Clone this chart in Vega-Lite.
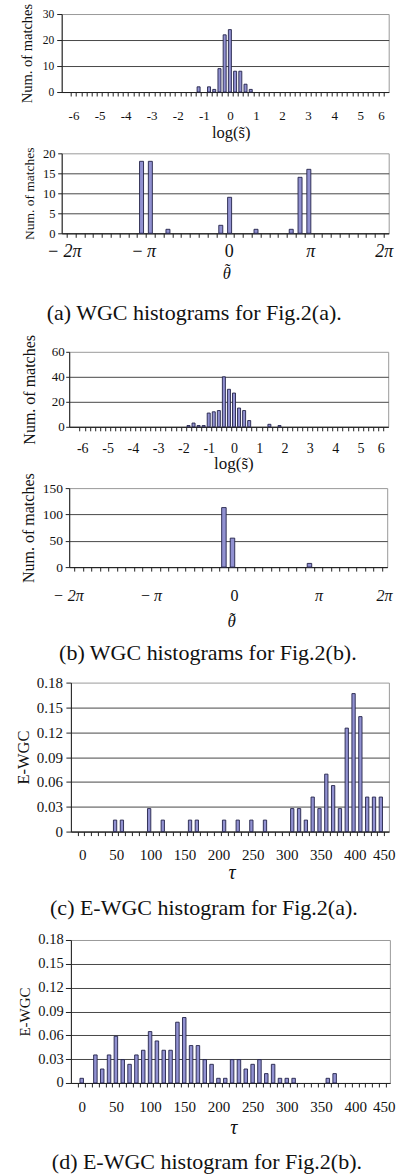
{
  "$schema": "https://vega.github.io/schema/vega-lite/v6.json",
  "padding": {"left": 14.7, "top": 2, "right": 0, "bottom": 0},
  "config": {
    "view": {"stroke": "#9a9a9a", "strokeWidth": 1},
    "axis": {"labelFont": "Liberation Serif", "titleFont": "Liberation Serif", "labelColor": "#111", "titleColor": "#111", "titleFontWeight": "normal", "domainColor": "#222", "tickColor": "#222", "gridColor": "#333", "gridWidth": 0.9, "labelFlush": false, "labelOverlap": false},
    "title": {"font": "Liberation Serif", "fontWeight": "normal", "color": "#111"}
  },
  "concat": [
    {
      "concat": [
        {
          "width": 327, "height": 78,
          "data": {"values": [{"s": -1.2, "n": 2}, {"s": -0.8, "n": 2}, {"s": -0.6, "n": 1}, {"s": -0.4, "n": 9}, {"s": -0.2, "n": 22}, {"s": 0, "n": 24}, {"s": 0.2, "n": 8}, {"s": 0.4, "n": 8}, {"s": 0.6, "n": 3}, {"s": 0.8, "n": 1}]},
          "mark": {"type": "bar", "width": 3, "fill": "#9191d1", "stroke": "#23234a", "strokeWidth": 0.9},
          "encoding": {
            "x": {"field": "s", "type": "quantitative", "scale": {"domain": [-6.26, 5.9], "nice": false, "zero": false},
              "axis": {"orient": "bottom", "grid": false, "values": [-6, -5.8, -5.6, -5.4, -5.2, -5, -4.8, -4.6, -4.4, -4.2, -4, -3.8, -3.6, -3.4, -3.2, -3, -2.8, -2.6, -2.4, -2.2, -2, -1.8, -1.6, -1.4, -1.2, -1, -0.8, -0.6, -0.4, -0.2, 0, 0.2, 0.4, 0.6, 0.8, 1, 1.2, 1.4, 1.6, 1.8, 2, 2.2, 2.4, 2.6, 2.8, 3, 3.2, 3.4, 3.6, 3.8, 4, 4.2, 4.4, 4.6, 4.8, 5, 5.2, 5.4, 5.6, 5.8, 6],
                "tickOffset": -2.69, "labelOffset": 2.69,
                "labelExpr": "datum.value > 5.95 ? '' : abs(datum.value - round(datum.value)) < 0.01 ? toString(round(datum.value)) : datum.value > 5.75 ? '6' : ''",
                "labelFontSize": 13, "labelBaseline": "alphabetic", "tickSize": 4, "labelPadding": 23.2,
                "title": "log(s\u0303)", "titleFontSize": 16.5, "titleX": 169, "titleY": 45.5, "titleBaseline": "alphabetic"}},
            "y": {"field": "n", "type": "quantitative", "scale": {"domain": [0, 30], "nice": false},
              "axis": {"values": [0, 10, 20, 30], "grid": true, "gridOpacity": {"condition": {"test": "datum.value >= 30", "value": 0}, "value": 1},
                "labelFontSize": 11.5, "tickSize": 5, "labelPadding": 3,
                "title": "Num. of matches", "titleFontSize": 14.5, "titleX": -29.8, "titleBaseline": "alphabetic"}}
          }
        },
        {
          "width": 327, "height": 80,
          "title": {"text": "(a) WGC histograms for Fig.2(a).", "orient": "bottom", "anchor": "middle", "frame": "group", "fontSize": 22, "baseline": "alphabetic", "offset": 38, "dx": -31},
          "data": {"values": [{"t": -190, "n": 18}, {"t": -170, "n": 18}, {"t": -130, "n": 1}, {"t": -10, "n": 2}, {"t": 10, "n": 9}, {"t": 70, "n": 1}, {"t": 150, "n": 1}, {"t": 170, "n": 14}, {"t": 190, "n": 16}]},
          "mark": {"type": "bar", "width": 4, "fill": "#9191d1", "stroke": "#23234a", "strokeWidth": 0.9},
          "encoding": {
            "x": {"field": "t", "type": "quantitative", "scale": {"domain": [-360, 360], "nice": false, "zero": false},
              "axis": {"orient": "bottom", "grid": false, "values": [-360, -340, -320, -300, -280, -260, -240, -220, -200, -180, -160, -140, -120, -100, -80, -60, -40, -20, 0, 20, 40, 60, 80, 100, 120, 140, 160, 180, 200, 220, 240, 260, 280, 300, 320, 340, 360],
                "labelExpr": "datum.value == -360 ? '\u2212 2\u03c0' : datum.value == -180 ? '\u2212\u2009\u03c0' : datum.value == 0 ? '0' : datum.value == 180 ? '\u03c0' : datum.value == 360 ? '2\u03c0' : ''",
                "labelFontStyle": {"condition": {"test": "datum.value == 0", "value": "normal"}, "value": "italic"},
                "labelOffset": {"condition": [{"test": "datum.value == -360", "value": -3}, {"test": "datum.value == -180", "value": -2.7}, {"test": "datum.value == 0", "value": 3.5}, {"test": "datum.value == 180", "value": 5.7}], "value": 0},
                "labelFontSize": 18, "labelBaseline": "alphabetic", "tickSize": 4, "labelPadding": 19,
                "title": ["\u02dc", "\u03b8"], "titleLineHeight": 3.5, "titleFontSize": 16.5, "titleFontStyle": "italic", "titleX": 164.5, "titleY": 41.2, "titleBaseline": "alphabetic"}},
            "y": {"field": "n", "type": "quantitative", "scale": {"domain": [0, 20], "nice": false},
              "axis": {"values": [0, 5, 10, 15, 20], "grid": true, "gridOpacity": {"condition": {"test": "datum.value >= 20", "value": 0}, "value": 1},
                "labelFontSize": 12.5, "tickSize": 4, "labelPadding": 2.7,
                "title": "Num. of matches", "titleFontSize": 13.5, "titleX": -28.2, "titleBaseline": "alphabetic"}}
          }
        }
      ],
      "columns": 1, "spacing": 61.3, "bounds": "flush"
    },
    {
      "hconcat": [
        {"width": 1, "height": 1, "data": {"values": [{}]}, "mark": {"type": "point", "size": 0, "opacity": 0}, "view": {"stroke": null}},
        {
          "concat": [
            {
              "width": 319, "height": 75,
              "data": {"values": [{"s": -1.8, "n": 1}, {"s": -1.6, "n": 3}, {"s": -1.4, "n": 1}, {"s": -1.2, "n": 1}, {"s": -1.0, "n": 11}, {"s": -0.8, "n": 12}, {"s": -0.6, "n": 13}, {"s": -0.4, "n": 40}, {"s": -0.2, "n": 30}, {"s": 0, "n": 27}, {"s": 0.2, "n": 15}, {"s": 0.4, "n": 13}, {"s": 0.6, "n": 5}, {"s": 1.4, "n": 2}, {"s": 1.8, "n": 1}]},
              "mark": {"type": "bar", "width": 3, "fill": "#9191d1", "stroke": "#23234a", "strokeWidth": 0.9},
              "encoding": {
                "x": {"field": "s", "type": "quantitative", "scale": {"domain": [-6.32, 5.9], "nice": false, "zero": false},
                  "axis": {"orient": "bottom", "grid": false, "values": [-6, -5.8, -5.6, -5.4, -5.2, -5, -4.8, -4.6, -4.4, -4.2, -4, -3.8, -3.6, -3.4, -3.2, -3, -2.8, -2.6, -2.4, -2.2, -2, -1.8, -1.6, -1.4, -1.2, -1, -0.8, -0.6, -0.4, -0.2, 0, 0.2, 0.4, 0.6, 0.8, 1, 1.2, 1.4, 1.6, 1.8, 2, 2.2, 2.4, 2.6, 2.8, 3, 3.2, 3.4, 3.6, 3.8, 4, 4.2, 4.4, 4.6, 4.8, 5, 5.2, 5.4, 5.6, 5.8, 6],
                    "tickOffset": -2.61, "labelOffset": 2.61,
                    "labelExpr": "datum.value > 5.95 ? '' : abs(datum.value - round(datum.value)) < 0.01 ? toString(round(datum.value)) : datum.value > 5.75 ? '6' : ''",
                    "labelFontSize": 14, "labelBaseline": "alphabetic", "tickSize": 4, "labelPadding": 21.3,
                    "title": "log(s\u0303)", "titleFontSize": 17, "titleX": 164.2, "titleY": 42, "titleBaseline": "alphabetic"}},
                "y": {"field": "n", "type": "quantitative", "scale": {"domain": [0, 60], "nice": false},
                  "axis": {"values": [0, 20, 40, 60], "grid": true, "gridOpacity": {"condition": {"test": "datum.value >= 60", "value": 0}, "value": 1},
                    "labelFontSize": 13, "tickSize": 3.5, "labelPadding": 1.5,
                    "title": "Num. of matches", "titleFontSize": 16, "titleX": -35, "titleBaseline": "alphabetic"}}
              }
            },
            {
              "width": 318, "height": 79,
              "title": {"text": "(b) WGC histograms for Fig.2(b).", "orient": "bottom", "anchor": "middle", "frame": "group", "fontSize": 22, "baseline": "alphabetic", "offset": 30.5, "dx": -20.3},
              "data": {"values": [{"t": -10, "n": 113}, {"t": 10, "n": 55}, {"t": 190, "n": 7}]},
              "mark": {"type": "bar", "width": 4.5, "fill": "#9191d1", "stroke": "#23234a", "strokeWidth": 0.9},
              "encoding": {
                "x": {"field": "t", "type": "quantitative", "scale": {"domain": [-360, 360], "nice": false, "zero": false},
                  "axis": {"orient": "bottom", "grid": false, "values": [-360, -340, -320, -300, -280, -260, -240, -220, -200, -180, -160, -140, -120, -100, -80, -60, -40, -20, 0, 20, 40, 60, 80, 100, 120, 140, 160, 180, 200, 220, 240, 260, 280, 300, 320, 340, 360],
                    "labelExpr": "datum.value == -360 ? '\u2212 2\u03c0' : datum.value == -180 ? '\u2212\u2009\u03c0' : datum.value == 0 ? '0' : datum.value == 180 ? '\u03c0' : datum.value == 360 ? '2\u03c0' : ''",
                    "labelFontStyle": {"condition": {"test": "datum.value == 0", "value": "normal"}, "value": "italic"},
                    "labelOffset": {"condition": [{"test": "datum.value == -360", "value": -6.3}, {"test": "datum.value == -180", "value": -0.8}, {"test": "datum.value == 0", "value": 5.7}, {"test": "datum.value == 180", "value": 13.2}, {"test": "datum.value == 360", "value": 1.7}], "value": 0},
                    "labelFontSize": 16, "labelBaseline": "alphabetic", "tickSize": 4, "labelPadding": 29,
                    "title": ["\u02dc", "\u03b8"], "titleLineHeight": 3.6, "titleFontSize": 17, "titleFontStyle": "italic", "titleX": 162, "titleY": 56, "titleBaseline": "alphabetic"}},
                "y": {"field": "n", "type": "quantitative", "scale": {"domain": [0, 150], "nice": false},
                  "axis": {"values": [0, 50, 100, 150], "grid": true, "gridOpacity": {"condition": {"test": "datum.value >= 150", "value": 0}, "value": 1},
                    "labelFontSize": 13.5, "tickSize": 4, "labelPadding": 2.6,
                    "title": "Num. of matches", "titleFontSize": 16, "titleX": -35.3, "titleBaseline": "alphabetic"}}
              }
            }
          ],
          "columns": 1, "spacing": 61.3, "bounds": "flush"
        }
      ],
      "spacing": -42.5
    },
    {
      "hconcat": [
        {"width": 1, "height": 1, "data": {"values": [{}]}, "mark": {"type": "point", "size": 0, "opacity": 0}, "view": {"stroke": null}},
        {
          "concat": [
            {
              "width": 318, "height": 149,
              "title": {"text": "(c) E-WGC histogram for Fig.2(a).", "orient": "bottom", "anchor": "middle", "frame": "group", "fontSize": 22, "baseline": "alphabetic", "offset": 33, "dx": -26},
              "data": {"values": [{"tau": 50, "v": 0.0139}, {"tau": 60, "v": 0.0139}, {"tau": 100, "v": 0.0278}, {"tau": 120, "v": 0.0139}, {"tau": 160, "v": 0.0139}, {"tau": 170, "v": 0.0139}, {"tau": 210, "v": 0.0139}, {"tau": 230, "v": 0.0139}, {"tau": 250, "v": 0.0139}, {"tau": 270, "v": 0.0139}, {"tau": 310, "v": 0.0278}, {"tau": 320, "v": 0.0278}, {"tau": 330, "v": 0.0139}, {"tau": 340, "v": 0.0417}, {"tau": 350, "v": 0.0278}, {"tau": 360, "v": 0.0694}, {"tau": 370, "v": 0.0556}, {"tau": 380, "v": 0.0278}, {"tau": 390, "v": 0.125}, {"tau": 400, "v": 0.1667}, {"tau": 410, "v": 0.1389}, {"tau": 420, "v": 0.0417}, {"tau": 430, "v": 0.0417}, {"tau": 440, "v": 0.0417}]},
              "mark": {"type": "bar", "width": 3.3, "fill": "#9191d1", "stroke": "#23234a", "strokeWidth": 0.9},
              "encoding": {
                "x": {"field": "tau", "type": "quantitative", "scale": {"domain": [-7.5, 444.5], "nice": false, "zero": false},
                  "axis": {"orient": "bottom", "grid": false, "values": [0, 10, 20, 30, 40, 50, 60, 70, 80, 90, 100, 110, 120, 130, 140, 150, 160, 170, 180, 190, 200, 210, 220, 230, 240, 250, 260, 270, 280, 290, 300, 310, 320, 330, 340, 350, 360, 370, 380, 390, 400, 410, 420, 430, 440, 450],
                    "tickOffset": -3.52,
                    "labelOffset": {"condition": {"test": "datum.value == 440", "value": 6.5}, "value": 4.8},
                    "labelExpr": "datum.value > 445 ? '' : datum.value == 440 ? '450' : datum.value % 50 == 0 ? toString(datum.value) : ''",
                    "labelFontSize": 15, "labelBaseline": "alphabetic", "tickSize": 4, "labelPadding": 23.7,
                    "title": "\u03c4", "titleFontSize": 20, "titleFontStyle": "italic", "titleX": 160.8, "titleY": 46.7, "titleBaseline": "alphabetic"}},
                "y": {"field": "v", "type": "quantitative", "scale": {"domain": [0, 0.18], "nice": false},
                  "axis": {"values": [0, 0.03, 0.06, 0.09, 0.12, 0.15, 0.18], "grid": true, "gridOpacity": {"condition": {"test": "datum.value >= 0.175", "value": 0}, "value": 1},
                    "labelExpr": "datum.value == 0 ? '0' : format(datum.value, '.2f')",
                    "labelFontSize": 15, "tickSize": 5, "labelPadding": 3.3,
                    "title": "E-WGC", "titleFontSize": 16.5, "titleX": -42.3, "titleBaseline": "alphabetic"}}
              }
            },
            {
              "width": 319, "height": 143,
              "title": {"text": "(d) E-WGC histogram for Fig.2(b).", "orient": "bottom", "anchor": "middle", "frame": "group", "fontSize": 22, "baseline": "alphabetic", "offset": 31.5, "dx": -23.5},
              "data": {"values": [{"tau": 0, "v": 0.0059}, {"tau": 20, "v": 0.0353}, {"tau": 30, "v": 0.0176}, {"tau": 40, "v": 0.0353}, {"tau": 50, "v": 0.0588}, {"tau": 60, "v": 0.0294}, {"tau": 70, "v": 0.0235}, {"tau": 80, "v": 0.0353}, {"tau": 90, "v": 0.0412}, {"tau": 100, "v": 0.0647}, {"tau": 110, "v": 0.0529}, {"tau": 120, "v": 0.0412}, {"tau": 130, "v": 0.0412}, {"tau": 140, "v": 0.0765}, {"tau": 150, "v": 0.0824}, {"tau": 160, "v": 0.0471}, {"tau": 170, "v": 0.0471}, {"tau": 180, "v": 0.0294}, {"tau": 190, "v": 0.0235}, {"tau": 200, "v": 0.0059}, {"tau": 210, "v": 0.0059}, {"tau": 220, "v": 0.0294}, {"tau": 230, "v": 0.0294}, {"tau": 240, "v": 0.0176}, {"tau": 250, "v": 0.0235}, {"tau": 260, "v": 0.0294}, {"tau": 270, "v": 0.0118}, {"tau": 280, "v": 0.0235}, {"tau": 290, "v": 0.0059}, {"tau": 300, "v": 0.0059}, {"tau": 310, "v": 0.0059}, {"tau": 360, "v": 0.0059}, {"tau": 370, "v": 0.0118}]},
              "mark": {"type": "bar", "width": 3.5, "fill": "#9191d1", "stroke": "#23234a", "strokeWidth": 0.9},
              "encoding": {
                "x": {"field": "tau", "type": "quantitative", "scale": {"domain": [-8.5, 443.5], "nice": false, "zero": false},
                  "axis": {"orient": "bottom", "grid": false, "values": [0, 10, 20, 30, 40, 50, 60, 70, 80, 90, 100, 110, 120, 130, 140, 150, 160, 170, 180, 190, 200, 210, 220, 230, 240, 250, 260, 270, 280, 290, 300, 310, 320, 330, 340, 350, 360, 370, 380, 390, 400, 410, 420, 430, 440, 450],
                    "tickOffset": -3.53,
                    "labelOffset": {"condition": {"test": "datum.value == 440", "value": 4.7}, "value": 3.53},
                    "labelExpr": "datum.value > 445 ? '' : datum.value == 440 ? '450' : datum.value % 50 == 0 ? toString(datum.value) : ''",
                    "labelFontSize": 15, "labelBaseline": "alphabetic", "tickSize": 4, "labelPadding": 25,
                    "title": "\u03c4", "titleFontSize": 20, "titleFontStyle": "italic", "titleX": 162.5, "titleY": 50.7, "titleBaseline": "alphabetic"}},
                "y": {"field": "v", "type": "quantitative", "scale": {"domain": [0, 0.18], "nice": false},
                  "axis": {"values": [0, 0.03, 0.06, 0.09, 0.12, 0.15, 0.18], "grid": true, "gridOpacity": {"condition": {"test": "datum.value >= 0.175", "value": 0}, "value": 1},
                    "labelExpr": "datum.value == 0 ? '0' : format(datum.value, '.2f')",
                    "labelFontSize": 14.5, "tickSize": 5.5, "labelPadding": 2.2,
                    "title": "E-WGC", "titleFontSize": 15, "titleX": -41, "titleBaseline": "alphabetic"}}
              }
            }
          ],
          "columns": 1, "spacing": 108.4, "bounds": "flush"
        }
      ],
      "spacing": -47.8
    }
  ],
  "columns": 1, "spacing": 9.8, "bounds": "full"
}
